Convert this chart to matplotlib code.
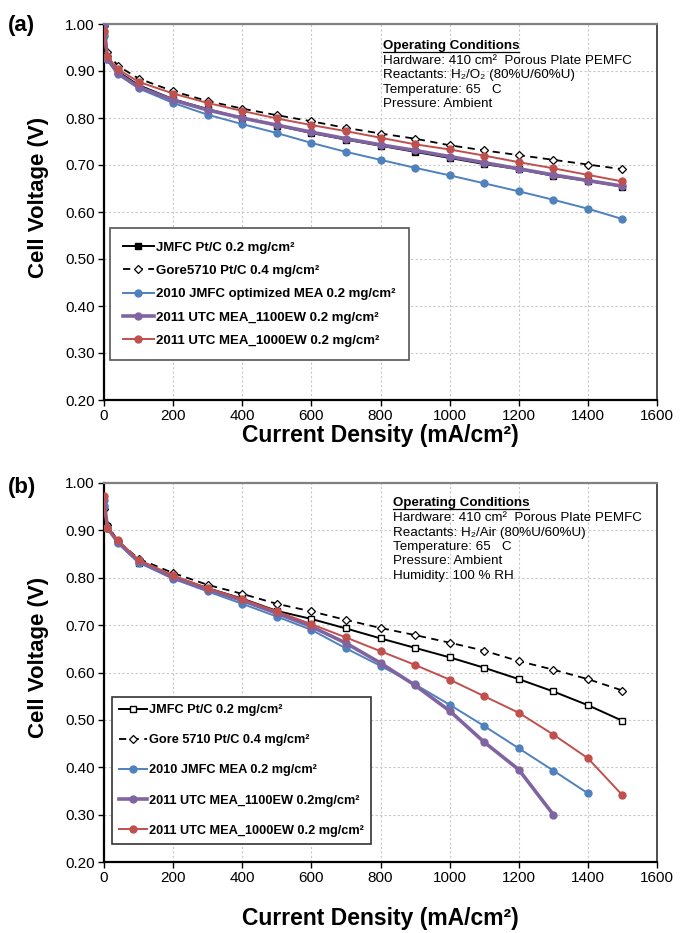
import matplotlib
matplotlib.use("Agg")
import matplotlib.pyplot as plt
from matplotlib.lines import Line2D

plt.rcParams['font.family'] = ['Liberation Sans', 'DejaVu Sans']

# current density points (mA/cm2)
x_full = [0, 10, 40, 100, 200, 300, 400, 500, 600, 700, 800, 900, 1000, 1100, 1200, 1300, 1400, 1500]

# panel (a) H2/O2 polarisation curves
jmfc_a = [0.980, 0.930, 0.899, 0.870, 0.840, 0.819, 0.800, 0.784, 0.768, 0.754, 0.741, 0.728, 0.715, 0.702, 0.691, 0.677, 0.666, 0.654]
gore_a = [0.995, 0.940, 0.911, 0.884, 0.857, 0.836, 0.820, 0.806, 0.793, 0.779, 0.767, 0.756, 0.742, 0.731, 0.721, 0.711, 0.701, 0.691]
blue_a = [0.975, 0.925, 0.893, 0.863, 0.832, 0.807, 0.787, 0.768, 0.747, 0.728, 0.711, 0.694, 0.678, 0.661, 0.644, 0.626, 0.607, 0.585]
purple_a = [0.998, 0.925, 0.895, 0.866, 0.838, 0.817, 0.800, 0.785, 0.770, 0.756, 0.743, 0.731, 0.718, 0.705, 0.692, 0.679, 0.667, 0.655]
red_a = [0.985, 0.931, 0.904, 0.877, 0.852, 0.832, 0.815, 0.799, 0.785, 0.772, 0.758, 0.744, 0.733, 0.720, 0.706, 0.693, 0.679, 0.665]

# panel (b) H2/Air polarisation curves
jmfc_b = [0.950, 0.910, 0.875, 0.832, 0.803, 0.778, 0.756, 0.730, 0.713, 0.693, 0.672, 0.652, 0.632, 0.610, 0.586, 0.560, 0.531, 0.498]
gore_b = [0.945, 0.912, 0.878, 0.840, 0.810, 0.785, 0.766, 0.745, 0.729, 0.711, 0.694, 0.679, 0.663, 0.646, 0.624, 0.606, 0.586, 0.562]
blue_b = [0.951, 0.905, 0.873, 0.832, 0.798, 0.771, 0.745, 0.718, 0.690, 0.651, 0.614, 0.575, 0.532, 0.487, 0.440, 0.393, 0.345]
purple_b = [0.965, 0.905, 0.875, 0.835, 0.800, 0.775, 0.752, 0.725, 0.697, 0.662, 0.620, 0.573, 0.519, 0.453, 0.395, 0.300]
red_b = [0.972, 0.904, 0.879, 0.838, 0.805, 0.778, 0.755, 0.729, 0.702, 0.674, 0.645, 0.616, 0.585, 0.550, 0.515, 0.469, 0.419, 0.341]

labels_a = ["JMFC Pt/C 0.2 mg/cm\u00b2", "Gore5710 Pt/C 0.4 mg/cm\u00b2",
            "2010 JMFC optimized MEA 0.2 mg/cm\u00b2",
            "2011 UTC MEA_1100EW 0.2 mg/cm\u00b2", "2011 UTC MEA_1000EW 0.2 mg/cm\u00b2"]
labels_b = ["JMFC Pt/C 0.2 mg/cm\u00b2", "Gore 5710 Pt/C 0.4 mg/cm\u00b2",
            "2010 JMFC MEA 0.2 mg/cm\u00b2",
            "2011 UTC MEA_1100EW 0.2mg/cm\u00b2", "2011 UTC MEA_1000EW 0.2 mg/cm\u00b2"]

cond_a = ["Hardware: 410 cm\u00b2  Porous Plate PEMFC",
          "Reactants: H\u2082/O\u2082 (80%U/60%U)",
          "Temperature: 65   C",
          "Pressure: Ambient"]
cond_b = ["Hardware: 410 cm\u00b2  Porous Plate PEMFC",
          "Reactants: H\u2082/Air (80%U/60%U)",
          "Temperature: 65   C",
          "Pressure: Ambient",
          "Humidity: 100 % RH"]

BLUE = "#4f81bd"
PURPLE = "#8064a2"
RED = "#c0504d"

fig = plt.figure(figsize=(6.81, 9.33), dpi=100)
ax_a = fig.add_axes([104/681, 1 - 400/933, 553/681, 376/933])
ax_b = fig.add_axes([104/681, 1 - 862/933, 553/681, 379/933])


def draw_panel(ax, jmfc, gore, blue, purple, red, labels, filled_square, xpad):
    ax.plot(x_full[:len(jmfc)], jmfc, color="black", lw=1.4, marker="s", ms=5,
            mfc="black" if filled_square else "white", mec="black", mew=1.0,
            label=labels[0], zorder=3)
    ax.plot(x_full[:len(gore)], gore, color="black", lw=1.3, ls=(0, (4, 3)), marker="D", ms=4,
            mfc="white", mec="black", mew=0.9, label=labels[1], zorder=3)
    ax.plot(x_full[:len(blue)], blue, color=BLUE, lw=1.4, marker="o", ms=5,
            mfc=BLUE, mec=BLUE, label=labels[2], zorder=4)
    ax.plot(x_full[:len(purple)], purple, color=PURPLE, lw=2.6, marker="o", ms=5,
            mfc=PURPLE, mec=PURPLE, label=labels[3], zorder=5)
    ax.plot(x_full[:len(red)], red, color=RED, lw=1.4, marker="o", ms=5,
            mfc=RED, mec=RED, label=labels[4], zorder=6)

    ax.set_xlim(0, 1600)
    ax.set_ylim(0.2, 1.0)
    ax.set_xticks(range(0, 1601, 200))
    ax.set_yticks([0.2 + 0.1 * i for i in range(9)])
    ax.yaxis.set_major_formatter(plt.FormatStrFormatter("%.2f"))
    ax.tick_params(labelsize=11, direction="out", length=4, width=1, pad=2.5)
    ax.grid(True, color="#c8c8c8", ls=(0, (2, 2)), lw=0.8)
    ax.set_axisbelow(True)
    for side in ["left", "bottom"]:
        ax.spines[side].set_linewidth(1.6)
        ax.spines[side].set_color("black")
    ax.spines["top"].set_color("#808080")
    ax.spines["top"].set_linewidth(1.6)
    ax.spines["right"].set_color("#303030")
    ax.spines["right"].set_linewidth(1.2)
    ax.set_xlabel("Current Density (mA/cm\u00b2)", fontsize=16.5, fontweight="bold", labelpad=xpad)
    ax.set_ylabel("Cell Voltage (V)", fontsize=16, fontweight="bold")
    ax.yaxis.set_label_coords(-0.10, 0.54)


draw_panel(ax_a, jmfc_a, gore_a, blue_a, purple_a, red_a, labels_a, True, 1)
draw_panel(ax_b, jmfc_b, gore_b, blue_b, purple_b, red_b, labels_b, False, 16)

leg_a = ax_a.legend(loc="upper left", bbox_to_anchor=(0.011, 0.457), fancybox=False,
                    edgecolor="#555555", prop={"weight": "bold", "size": 9.5},
                    labelspacing=0.84, handlelength=2.3, handletextpad=0.2,
                    borderpad=1.0, borderaxespad=0, framealpha=1)
leg_a.get_frame().set_linewidth(1.2)
leg_b = ax_b.legend(loc="upper left", bbox_to_anchor=(0.014, 0.435), fancybox=False,
                    edgecolor="#333333", prop={"weight": "bold", "size": 9.2},
                    labelspacing=1.42, handlelength=2.2, handletextpad=0.2,
                    borderpad=0.55, borderaxespad=0, framealpha=1)
leg_b.get_frame().set_linewidth(1.2)

# operating conditions blocks
titles = []
for ax, lines, xf, yf in [(ax_a, cond_a, 0.5045, 0.957), (ax_b, cond_b, 0.522, 0.962)]:
    t = ax.text(xf, yf, "Operating Conditions", transform=ax.transAxes, fontsize=9.6,
                fontweight="bold", va="top", ha="left")
    ax.text(xf, yf - 0.039, "\n".join(lines), transform=ax.transAxes, fontsize=9.6,
            va="top", ha="left", linespacing=1.27)
    titles.append(t)

fig.text(8/681, 1 - 26/933, "(a)", fontsize=16, fontweight="bold", va="center")
fig.text(8/681, 1 - 488/933, "(b)", fontsize=16, fontweight="bold", va="center")

# underline the "Operating Conditions" headings
fig.canvas.draw()
renderer = fig.canvas.get_renderer()
for t in titles:
    bb = t.get_window_extent(renderer)
    y = bb.y0 + 0.5
    fig.add_artist(Line2D([bb.x0 / 681, bb.x1 / 681], [y / 933, y / 933],
                          color="black", lw=0.9, transform=fig.transFigure))

fig.savefig("out.png", dpi=100)
